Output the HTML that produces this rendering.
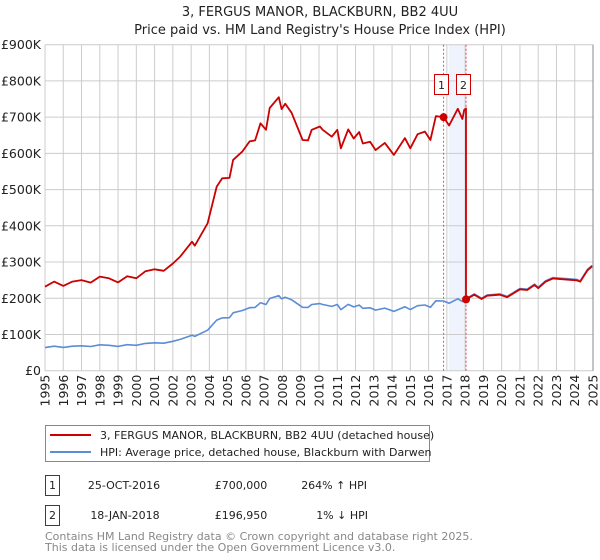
<!DOCTYPE html>
<html><head><meta charset="utf-8"><style>
body{margin:0;background:#fff;}
svg{display:block;font-family:"DejaVu Sans","Liberation Sans",sans-serif;}
</style></head><body>
<svg id="c" width="600" height="560" viewBox="0 0 600 560">
<text x="320" y="16" text-anchor="middle" font-size="13" fill="#222">3, FERGUS MANOR, BLACKBURN, BB2 4UU</text>
<text x="320" y="34" text-anchor="middle" font-size="13" fill="#222">Price paid vs. HM Land Registry's House Price Index (HPI)</text>
<g id="grid"></g>
<g id="marks"></g>
<g id="axes"></g>
<g>
<rect x="45.5" y="425.5" width="384" height="36" fill="#fff" stroke="#888"/>
<line x1="50" y1="435" x2="91" y2="435" stroke="#cc0000" stroke-width="2"/>
<text x="100" y="439" font-size="11" fill="#222">3, FERGUS MANOR, BLACKBURN, BB2 4UU (detached house)</text>
<line x1="50" y1="452" x2="91" y2="452" stroke="#5b8dd6" stroke-width="2"/>
<text x="100" y="456" font-size="11" fill="#222">HPI: Average price, detached house, Blackburn with Darwen</text>
</g>
<g font-size="11" fill="#222">
<rect x="45.5" y="475.5" width="14" height="20" fill="#fff" stroke="#cc0000"/>
<text x="52.5" y="489" text-anchor="middle">1</text>
<text x="124" y="489" text-anchor="middle">25-OCT-2016</text>
<text x="241" y="489" text-anchor="middle">£700,000</text>
<text x="367" y="489" text-anchor="end">264% ↑ HPI</text>
<rect x="45.5" y="505.5" width="14" height="20" fill="#fff" stroke="#cc0000"/>
<text x="52.5" y="519" text-anchor="middle">2</text>
<text x="125" y="519" text-anchor="middle">18-JAN-2018</text>
<text x="241" y="519" text-anchor="middle">£196,950</text>
<text x="368" y="519" text-anchor="end">1% ↓ HPI</text>
</g>
<text x="45" y="540" font-size="11" fill="#888">Contains HM Land Registry data © Crown copyright and database right 2025.</text>
<text x="45" y="551" font-size="11" fill="#888">This data is licensed under the Open Government Licence v3.0.</text>
</svg>
<script>
const hpiYears=[1995.0,1995.5,1996.0,1996.5,1997.0,1997.5,1998.0,1998.5,1999.0,1999.5,2000.0,2000.5,2001.0,2001.5,2002.0,2002.4,2003.05,2003.2,2003.9,2004.4,2004.7,2005.1,2005.3,2005.8,2006.2,2006.5,2006.8,2007.1,2007.3,2007.8,2007.95,2008.15,2008.5,2009.1,2009.4,2009.6,2010.05,2010.2,2010.7,2011.0,2011.2,2011.6,2011.9,2012.2,2012.4,2012.8,2013.1,2013.6,2014.1,2014.7,2015.0,2015.4,2015.8,2016.1,2016.4,2016.82,2017.12,2017.6,2017.85,2017.95,2018.05,2018.5,2018.9,2019.2,2019.9,2020.3,2021.0,2021.4,2021.8,2022.0,2022.4,2022.8,2023.3,2024.1,2024.3,2024.7,2024.95];
const hpiValues=[63.7,67.6,64.3,67.6,68.7,66.8,71.4,70.1,67.0,71.7,70.1,75.5,76.9,75.8,81.3,86.5,97.8,94.8,111.8,139.6,145.9,146.2,159.9,166.2,173.9,174.7,187.6,182.7,199.2,207.4,198.4,202.5,195.6,175.0,174.7,182.7,185.2,182.7,177.5,182.7,168.7,183.0,176.1,181.0,172.3,173.6,167.3,172.8,163.7,176.4,168.7,179.4,181.3,175.0,193.1,192.3,186.0,198.6,190.9,197.8,198.9,212,200,209,212,205,227,225,239,230,248,257,255,252,248,280,291];
const saleYears=[2016.82,2018.05];
const salePrices=[700,196.95];
const saleLabels=["1","2"];
const yTicks=[0,100,200,300,400,500,600,700,800,900];
const yTickLabels=["£0","£100K","£200K","£300K","£400K","£500K","£600K","£700K","£800K","£900K"];
const xTicks=[1995,1996,1997,1998,1999,2000,2001,2002,2003,2004,2005,2006,2007,2008,2009,2010,2011,2012,2013,2014,2015,2016,2017,2018,2019,2020,2021,2022,2023,2024,2025];

const X0=45,X1=593,Y0=370.7,Y1=44.7;
const xs=y=>X0+(y-1995)/30*(X1-X0);
const ys=v=>Y0-v/900*(Y0-Y1);
const NS="http://www.w3.org/2000/svg";
function mk(tag,attrs,parent){const e=document.createElementNS(NS,tag);for(const k in attrs)e.setAttribute(k,attrs[k]);parent.appendChild(e);return e;}
const grid=document.getElementById('grid'),marks=document.getElementById('marks'),axes=document.getElementById('axes');

const sh=mk('rect',{x:xs(2017.1),y:Y1,width:xs(saleYears[1])-xs(2017.1),height:Y0-Y1,fill:'#eef3fd'},grid);



yTicks.forEach((v,i)=>{
  const l=mk('line',{x1:X0,x2:X1,y1:ys(v),y2:ys(v),stroke:'#cccccc','stroke-width':1},grid);
  
  
  const t=mk('text',{x:X0-4,y:ys(v)+4.5,'text-anchor':'end','font-size':'12.5',fill:'#222'},axes);
  t.textContent=yTickLabels[i];
  
  
});
xTicks.forEach(y=>{
  const l=mk('line',{x1:xs(y),x2:xs(y),y1:Y1,y2:Y0,stroke:'#cccccc','stroke-width':1},grid);
  
  
  const t=mk('text',{x:0,y:0,'text-anchor':'end','font-size':'12.5',fill:'#222',transform:`translate(${xs(y)+4.5},${Y0+4}) rotate(-90)`},axes);
  t.textContent=y;
  
  
});
const rb=mk('line',{x1:X1,x2:X1,y1:Y1,y2:Y0,stroke:'#888','stroke-width':1},grid);



saleYears.forEach((sy,i)=>{
  const l=mk('line',{x1:xs(sy),x2:xs(sy),y1:Y1,y2:Y0,stroke:'#e05555','stroke-width':1,'stroke-dasharray':'2,2'},grid);
  
  
});

function hpiAt(t){
  for(let i=0;i<hpiYears.length-1;i++){if(t>=hpiYears[i]&&t<=hpiYears[i+1]){const f=(t-hpiYears[i])/(hpiYears[i+1]-hpiYears[i]);return hpiValues[i]+f*(hpiValues[i+1]-hpiValues[i]);}}
  return hpiValues[hpiValues.length-1];
}
const bp=hpiYears.map((y,i)=>`${xs(y).toFixed(1)},${ys(hpiValues[i]).toFixed(1)}`).join(' ');
const hl=mk('polyline',{points:bp,fill:'none',stroke:'#5b8dd6','stroke-width':1.6,'stroke-linejoin':'round'},marks);



const r1=salePrices[0]/hpiAt(saleYears[0]),r2=salePrices[1]/hpiAt(saleYears[1]);
let pts=[];
hpiYears.forEach((y,i)=>{if(y<saleYears[1])pts.push([y,hpiValues[i]*r1]);});
pts.push([saleYears[1],hpiAt(saleYears[1])*r1]);
pts.push([saleYears[1],salePrices[1]]);
hpiYears.forEach((y,i)=>{if(y>saleYears[1])pts.push([y,hpiValues[i]*r2]);});
const rl=mk('polyline',{points:pts.map(p=>`${xs(p[0]).toFixed(1)},${ys(p[1]).toFixed(1)}`).join(' '),fill:'none',stroke:'#cc0000','stroke-width':1.8,'stroke-linejoin':'round'},marks);



saleYears.forEach((sy,i)=>{
  const c=mk('circle',{cx:xs(sy),cy:ys(salePrices[i]),r:4,fill:'#cc0000'},marks);
  
  
  const bx=Math.round(xs(sy)-10);
  const r=mk('rect',{x:bx+0.5,y:74.5,width:14,height:20,fill:'#fff',stroke:'#cc0000'},marks);
  
  
  const t=mk('text',{x:bx+7.5,y:89,'text-anchor':'middle','font-size':'11',fill:'#222'},marks);
  t.textContent=saleLabels[i];
  
  
});
</script>
</body></html>
